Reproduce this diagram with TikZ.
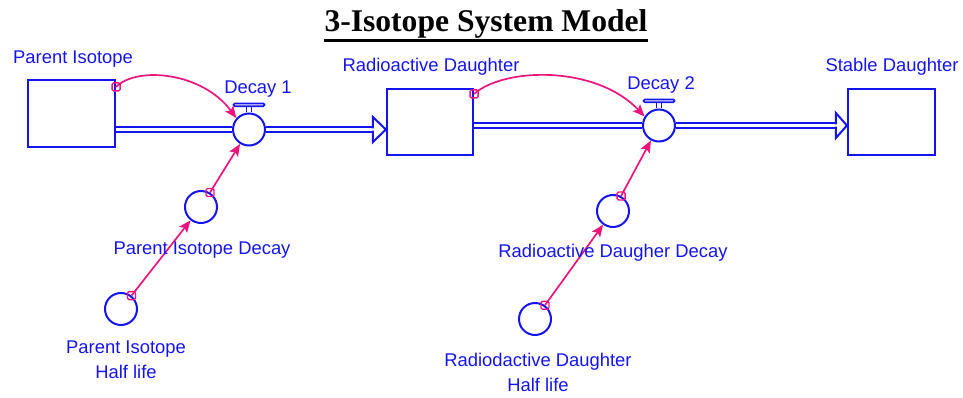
\documentclass[tikz,border=0pt]{standalone}
\usepackage{fontspec}
\setmainfont{Liberation Sans}
\newfontfamily\titlefont{Liberation Serif}
\usetikzlibrary{arrows.meta,calc}
\definecolor{vblue}{RGB}{20,20,240}
\definecolor{vpink}{RGB}{235,20,125}
\begin{document}
\begin{tikzpicture}[x=1pt,y=-1pt,
  stockbox/.style={rectangle,draw=vblue,line width=2.2pt,minimum width=87pt,minimum height=66pt,inner sep=0pt},
  valvec/.style={circle,draw=vblue,line width=2pt,minimum size=32pt,inner sep=0pt},
  conv/.style={circle,draw=vblue,line width=2pt,minimum size=32pt,inner sep=0pt},
  lbl/.style={text=vblue,font=\fontsize{18.4}{25}\selectfont,inner sep=0pt,anchor=base},
  lbltwo/.style={text=vblue,font=\fontsize{18.4}{25}\selectfont,inner sep=0pt,align=center,anchor=center},
  pipe/.style={draw=vblue,line width=2pt,double=white,double distance=2.4pt},
  headst/.style={draw=vblue,line width=2pt,line join=miter},
  valvest/.style={draw=vblue,line width=1.7pt},
  conn/.style={draw=vpink,line width=1.7pt,-{Stealth[length=12pt,width=10pt,inset=2.5pt]}},
  marker/.style={rectangle,draw=vpink,line width=1.4pt,minimum size=8pt,inner sep=0pt,rounded corners=1.5pt}
]
\useasboundingbox (0,0) rectangle (963,398);

% title
\node[font=\titlefont\bfseries\fontsize{31.6}{36}\selectfont,inner sep=0pt,anchor=base] (title) at (486,32) {3-Isotope System Model};
\draw[line width=3pt] ($(title.base west)+(0,9)$) -- ($(title.base east)+(0,9)$);

% stocks
\node[stockbox,minimum height=67pt] (pi) at (71.5,113.5) {};
\node[stockbox,minimum width=86pt] (rd) at (430,122) {};
\node[stockbox] (sd) at (891.5,122) {};

% valves
\node[valvec] (d1) at (249,129.5) {};
\node[valvec] (d2) at (659,125.5) {};
\foreach \v in {d1,d2}{
  \draw[valvest] ($(\v.north)+(-2.5,0)$) -- ++(0,-6.5) ($(\v.north)+(2.5,0)$) -- ++(0,-6.5);
  \draw[valvest,rounded corners=1.2pt] ($(\v.north)+(-15.5,-6.3)$) rectangle ($(\v.north)+(15.5,-9)$);
}

% converters
\node[conv] (pid) at (201,207) {};
\node[conv] (pihl) at (121,309) {};
\node[conv] (rdd) at (613,211) {};
\node[conv] (rdhl) at (535,319) {};

% flows
\draw[pipe] (pi.east |- d1) -- (d1.west);
\coordinate (a1) at ($(rd.west |- d1)+(-13,0)$);
\draw[pipe] (d1.east) -- (a1);
\draw[headst] ($(a1)+(0,-1.2)$) -- ($(a1)+(0,-12.5)$) -- (rd.west |- d1) -- ($(a1)+(0,12.5)$) -- ($(a1)+(0,1.2)$);

\draw[pipe] (rd.east |- d2) -- (d2.west);
\coordinate (a2) at ($(sd.west |- d2)+(-11,0)$);
\draw[pipe] (d2.east) -- (a2);
\draw[headst] ($(a2)+(0,-1.2)$) -- ($(a2)+(0,-12.5)$) -- (sd.west |- d2) -- ($(a2)+(0,12.5)$) -- ($(a2)+(0,1.2)$);

% connectors
\coordinate (m1) at ($(pi.north east)+(0,8)$);
\draw[conn] (m1) .. controls +(21,-21) and +(-34,-46) .. (d1.138);
\node[marker] (mk1) at (m1) {};
\coordinate (m2) at ($(rd.north east)+(0,6)$);
\draw[conn] (m2) .. controls +(31,-27) and +(-48,-51) .. (d2.148);
\node[marker] (mk2) at (m2) {};

\draw[conn] (pid) -- node[marker,pos=0] (mk3) {} (d1);
\draw[conn] (pihl) -- node[marker,pos=0] (mk4) {} (pid);
\draw[conn] (rdd) -- node[marker,pos=0] (mk5) {} (d2);
\draw[conn] (rdhl) -- node[marker,pos=0] (mk6) {} (rdd);

% labels
\node[lbl] (pilbl) at (73,64) {Parent Isotope};
\node[lbl] (d1lbl) at (258,94) {Decay 1};
\node[lbl] (rdlbl) at (431,72) {Radioactive Daughter};
\node[lbl] (d2lbl) at (661,90) {Decay 2};
\node[lbl] (sdlbl) at (892,72) {Stable Daughter};
\node[lbl] (pidlbl) at (202,254) {Parent Isotope Decay};
\node[lbl] (rddlbl) at (613,257) {Radioactive Daugher Decay};
\node[lbltwo] (pihllbl) at (126,360) {Parent Isotope\\Half life};
\node[lbltwo] (rdhllbl) at (538,372) {Radiodactive Daughter\\Half life};
\end{tikzpicture}
\end{document}
